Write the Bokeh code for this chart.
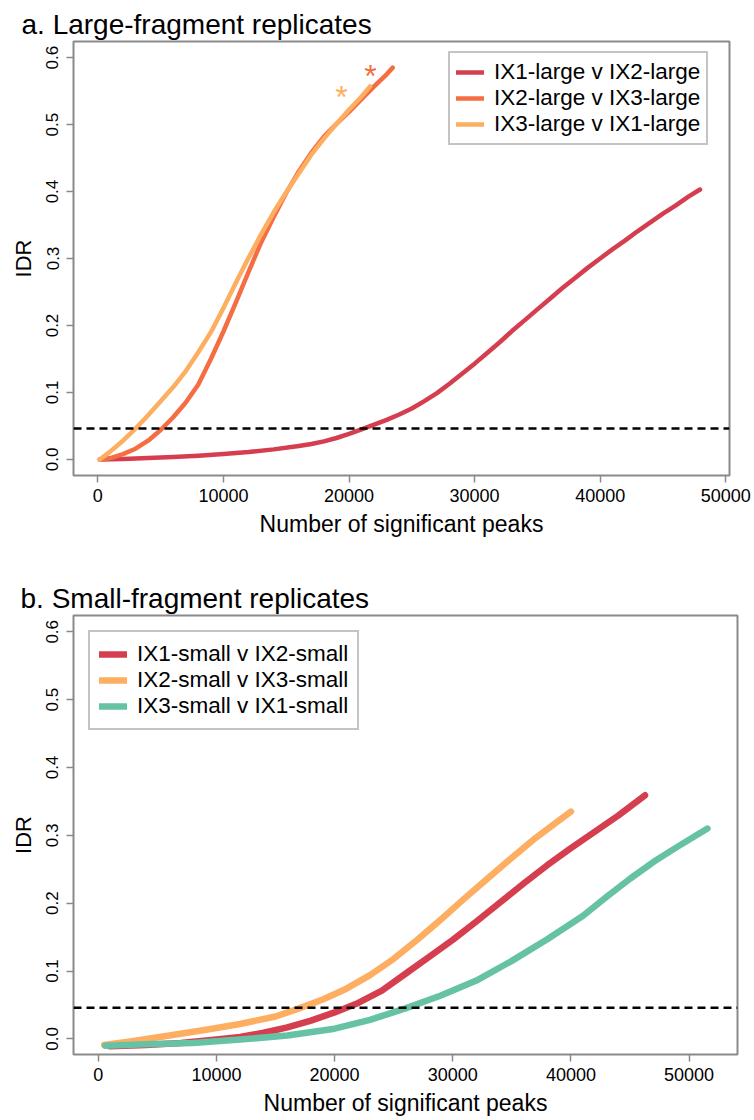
from bokeh.plotting import figure
from bokeh.layouts import column
from bokeh.models import Range1d, Span, Legend, LegendItem, FixedTicker, PrintfTickFormatter
from bokeh.core.properties import value
from bokeh.embed import file_html
from bokeh.resources import INLINE

# ---------------- data ----------------
# Panel a: large-fragment replicates
a_names = ["IX1-large v IX2-large", "IX2-large v IX3-large", "IX3-large v IX1-large"]
a_colors = ["#D53E4F", "#F46D43", "#FDAE61"]
a1_x = [150, 2000, 4000, 6000, 8000, 10000, 12000, 14000, 16000, 17000, 18000, 19000, 20000,
        21000, 22000, 23000, 24000, 25000, 26000, 27000, 28000, 29000, 30000, 31000, 32000,
        33000, 34000, 35000, 36000, 37000, 38000, 39000, 40000, 41000, 42000, 43000, 44000,
        45000, 46000, 47000, 47950]
a1_y = [0.0, 0.0005, 0.002, 0.0035, 0.0055, 0.008, 0.011, 0.015, 0.020, 0.023, 0.027, 0.032,
        0.038, 0.045, 0.052, 0.059, 0.067, 0.076, 0.087, 0.099, 0.113, 0.128, 0.143, 0.159,
        0.175, 0.192, 0.208, 0.224, 0.240, 0.256, 0.271, 0.286, 0.300, 0.314, 0.327, 0.341,
        0.354, 0.367, 0.379, 0.392, 0.403]
a2_x = [150, 1000, 2000, 3000, 4000, 5000, 6000, 7000, 8000, 9000, 10000, 11000, 12000,
        13000, 14000, 15000, 16000, 17000, 18000, 19000, 20000, 21000, 22000, 23000, 23480]
a2_y = [0.0, 0.002, 0.008, 0.016, 0.028, 0.044, 0.063, 0.085, 0.112, 0.150, 0.191, 0.235,
        0.280, 0.324, 0.362, 0.398, 0.430, 0.458, 0.482, 0.501, 0.519, 0.538, 0.557, 0.575,
        0.585]
a3_x = [150, 1000, 2000, 3000, 4000, 5000, 6000, 7000, 8000, 9000, 10000, 11000, 12000,
        13000, 14000, 15000, 16000, 17000, 18000, 19000, 20000, 21000, 21680]
a3_y = [0.0, 0.012, 0.028, 0.046, 0.066, 0.087, 0.108, 0.132, 0.160, 0.190, 0.226, 0.264,
        0.301, 0.336, 0.369, 0.399, 0.427, 0.455, 0.479, 0.501, 0.522, 0.542, 0.557]
a_star_x = [21700, 19400]
a_star_y = [0.58, 0.548]
a_star_colors = ["#F46D43", "#FDAE61"]

# Panel b: small-fragment replicates
b_names = ["IX1-small v IX2-small", "IX2-small v IX3-small", "IX3-small v IX1-small"]
b_colors = ["#D53E4F", "#FDAE61", "#66C2A5"]
b1_x = [1000, 4000, 7000, 10000, 12000, 14000, 16000, 18000, 20000, 22000, 24000, 26000,
        28000, 30000, 32000, 34000, 36000, 38000, 40000, 42000, 44000, 46270]
b1_y = [-0.011, -0.009, -0.006, -0.001, 0.003, 0.009, 0.017, 0.027, 0.039, 0.053, 0.071,
        0.096, 0.121, 0.146, 0.173, 0.201, 0.229, 0.256, 0.281, 0.305, 0.329, 0.359]
b2_x = [500, 3000, 6000, 9000, 12000, 15000, 17000, 19000, 21000, 23000, 25000, 27000,
        29000, 31000, 33000, 35000, 37000, 39000, 40000]
b2_y = [-0.009, -0.003, 0.005, 0.013, 0.022, 0.033, 0.045, 0.058, 0.074, 0.094, 0.118,
        0.146, 0.176, 0.207, 0.237, 0.267, 0.296, 0.322, 0.335]
b3_x = [600, 4000, 8000, 12000, 16000, 20000, 23000, 26000, 29000, 32000, 35000, 38000,
        41000, 43000, 45000, 47000, 49000, 51560]
b3_y = [-0.010, -0.008, -0.006, -0.001, 0.005, 0.015, 0.028, 0.045, 0.064, 0.086, 0.115,
        0.147, 0.181, 0.209, 0.236, 0.261, 0.283, 0.310]

idr_threshold = 0.046
x_ticks = [0, 10000, 20000, 30000, 40000, 50000]
y_ticks = [0.0, 0.1, 0.2, 0.3, 0.4, 0.5, 0.6]
x_label = "Number of significant peaks"
y_label = "IDR"

FONT = "Liberation Sans"
GREY = "#8a8a8a"


def make_fig(title, xr, yr, fw, fh, left, right, top, bottom, title_offset):
    p = figure(width=fw + left + right, height=fh + top + bottom,
               frame_width=fw, frame_height=fh,
               x_range=Range1d(*xr), y_range=Range1d(*yr),
               output_backend="svg", toolbar_location=None,
               min_border_left=left, min_border_right=right,
               min_border_top=top, min_border_bottom=bottom)
    p.title.text = title
    p.title.align = "left"
    p.title.offset = title_offset
    p.title.text_font = FONT
    p.title.text_font_size = "28px"
    p.title.text_font_style = "normal"
    p.title.text_color = "black"
    p.title.standoff = 4
    p.grid.visible = False
    p.outline_line_color = GREY
    p.outline_line_width = 2
    p.background_fill_color = "white"
    p.border_fill_color = "white"

    p.xaxis.ticker = FixedTicker(ticks=x_ticks)
    p.yaxis.ticker = FixedTicker(ticks=y_ticks)
    p.yaxis.formatter = PrintfTickFormatter(format="%.1f")
    p.xaxis.axis_label = x_label
    p.yaxis.axis_label = y_label
    for ax in (p.xaxis, p.yaxis):
        ax.axis_line_color = None
        ax.major_tick_line_color = GREY
        ax.major_tick_line_width = 1.5
        ax.major_tick_out = 7
        ax.major_tick_in = 0
        ax.minor_tick_line_color = None
        ax.major_label_text_font = FONT
        ax.major_label_text_color = "black"
        ax.axis_label_text_font = FONT
        ax.axis_label_text_font_style = "normal"
        ax.axis_label_text_color = "black"
    p.xaxis.major_label_text_font_size = "18px"
    p.xaxis.major_label_standoff = 6
    p.xaxis.axis_label_text_font_size = "23px"
    p.xaxis.axis_label_standoff = 6
    p.yaxis.major_label_text_font_size = "17px"
    p.yaxis.major_label_orientation = "vertical"
    p.yaxis.major_label_standoff = 8
    p.yaxis.axis_label_text_font_size = "22px"
    p.yaxis.axis_label_standoff = 8
    p.xaxis.formatter.use_scientific = False
    return p


# ---------------- panel a ----------------
pa = make_fig("a. Large-fragment replicates", (-1940, 50300), (-0.024, 0.624),
              656, 434, 72, 26, 41, 65, -52)
pa.add_layout(Span(location=idr_threshold, dimension="width", line_color="black",
                   line_width=2.5, line_dash="8 5"))
ra = []
for xs, ys, c in zip([a1_x, a2_x, a3_x], [a1_y, a2_y, a3_y], a_colors):
    ra.append(pa.line(xs, ys, line_color=c, line_width=4.5, line_cap="round",
                      line_join="round"))
pa.text(x=a_star_x, y=a_star_y, text=["*", "*"], text_color=a_star_colors,
        text_font=value(FONT), text_font_size="32px", text_align="center",
        text_baseline="middle", y_offset=5)
leg_a = Legend(items=[LegendItem(label=n, renderers=[r]) for n, r in zip(a_names, ra)],
               location=(375, 330))
pa.add_layout(leg_a)

# ---------------- panel b ----------------
pb = make_fig("b. Small-fragment replicates", (-2100, 54100), (-0.023, 0.624),
              664, 439, 73, 17, 75, 66, -53)
pb.add_layout(Span(location=idr_threshold, dimension="width", line_color="black",
                   line_width=2.5, line_dash="8 5"))
rb = []
for xs, ys, c in zip([b1_x, b2_x, b3_x], [b1_y, b2_y, b3_y], b_colors):
    rb.append(pb.line(xs, ys, line_color=c, line_width=6.5, line_cap="round",
                      line_join="round"))
leg_b = Legend(items=[LegendItem(label=n, renderers=[r]) for n, r in zip(b_names, rb)],
               location=(15, 324))
pb.add_layout(leg_b)

for lg, pad in ((leg_a, 6), (leg_b, 9)):
    lg.label_text_font = FONT
    lg.label_text_font_size = "22.5px"
    lg.label_text_color = "black"
    lg.label_height = 20
    lg.border_line_color = GREY
    lg.border_line_width = 2
    lg.background_fill_alpha = 1.0
    lg.glyph_width = 28
    lg.glyph_height = 20
    lg.label_standoff = 10
    lg.spacing = 0
    lg.padding = pad
    lg.margin = 0

layout = column(pa, pb, spacing=0)
open("out.html", "w").write(file_html(layout, INLINE))
